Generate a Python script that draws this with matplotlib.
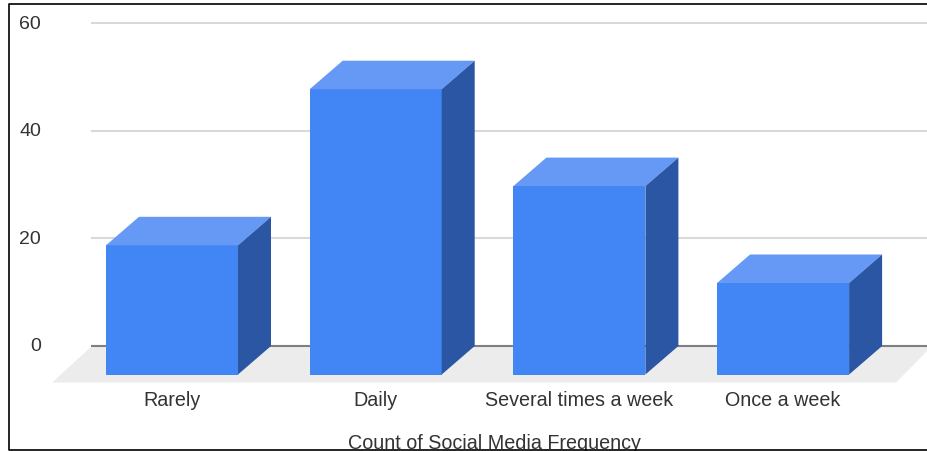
import matplotlib
matplotlib.use("Agg")
import matplotlib.pyplot as plt
from matplotlib.patches import Polygon, Rectangle

categories = ["Rarely", "Daily", "Several times a week", "Once a week"]
counts = [24, 53, 35, 17]
y_ticks = [0, 20, 40, 60]
x_title = "Count of Social Media Frequency"

plt.rcParams["font.family"] = ["Liberation Sans", "DejaVu Sans"]

W, H = 927, 452
# pixel geometry of the fake 3d chart
zero_px = 347
px_per_unit = 5.383
step_px = 203.7
first_px = 172
bar_w = 132 / step_px
depth_x = 33 / step_px
depth_y = 28.5 / px_per_unit

fig = plt.figure(figsize=(W / 100, H / 100), dpi=100)
ax = fig.add_axes([0, 0, 1, 1])
ax.set_xlim(-first_px / step_px, (W - first_px) / step_px)
ax.set_ylim((zero_px - H) / px_per_unit, zero_px / px_per_unit)
ax.axis("off")


def px_x(p):
    return (p - first_px) / step_px


# floor
ax.add_patch(Polygon([(px_x(52), -depth_y - 1.5), (px_x(896), -depth_y - 1.5),
                      (px_x(932), 0), (px_x(92), 0)],
                     facecolor="#ececec", edgecolor="none", zorder=1))

# grid lines and y labels
for t in y_ticks:
    col = "#7f7f7f" if t == 0 else "#d9d9d9"
    ax.plot([px_x(92), px_x(W)], [t, t], color=col, lw=1.5, zorder=2)
    ax.text(px_x(41), t, str(t), ha="right", va="center", fontsize=14, color="#333333")

# bars, drawn as three faces each
for i, (name, v) in enumerate(zip(categories, counts)):
    left = i - bar_w / 2
    right = i + bar_w / 2
    bottom = -depth_y
    top = v - depth_y
    ax.add_patch(Polygon([(left, bottom), (right, bottom), (right, top), (left, top)],
                         facecolor="#4285f4", edgecolor="none", zorder=3))
    ax.add_patch(Polygon([(left, top), (right, top), (right + depth_x, v), (left + depth_x, v)],
                         facecolor="#6699f5", edgecolor="none", zorder=3))
    ax.add_patch(Polygon([(right, bottom), (right + depth_x, 0), (right + depth_x, v), (right, top)],
                         facecolor="#2a56a4", edgecolor="none", zorder=3))
    ax.text(i, -10.0, name, ha="center", va="center", fontsize=14.2, color="#333333")

ax.text(px_x(494), -18.0, x_title, ha="center", va="center", fontsize=14.2, color="#333333")

# outer frame, open on the right where the image is cut
frame_x = [W / W, 8.5 / W, 8.5 / W, W / W]
frame_y = [1 - 4.5 / H, 1 - 4.5 / H, 1 - 451.2 / H, 1 - 451.2 / H]
fig.add_artist(plt.Line2D(frame_x, frame_y, transform=fig.transFigure, color="black", lw=1.2))

fig.savefig("out.png", dpi=100)
